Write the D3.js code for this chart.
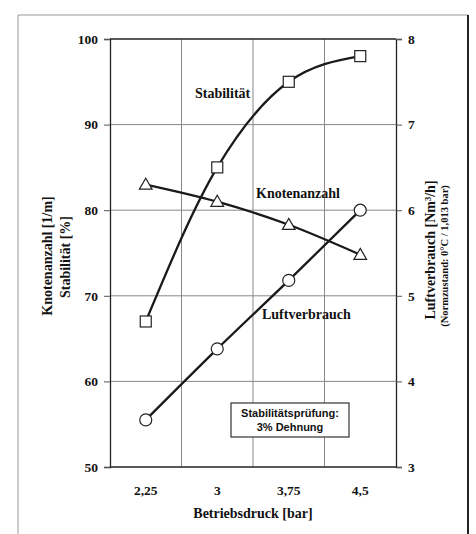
<!DOCTYPE html>
<html>
<head>
<meta charset="utf-8">
<script src="https://cdn.jsdelivr.net/npm/d3@7"></script>
<style>
body{margin:0;background:#fff;}
text{font-family:"Liberation Serif","Times New Roman",serif;font-weight:bold;fill:#111;}
</style>
</head>
<body>
<div id="plot"></div>
<script>
// data
var druck = ['2,25','3','3,75','4,5'];
var stabilitaet = [67, 85, 95, 98];          // left axis [%]
var knotenanzahl = [83, 81, 78.3, 74.8];     // left axis [1/m]
var luftverbrauch = [3.55, 4.38, 5.18, 6.0]; // right axis [Nm3/h]
var leftTicks = [50,60,70,80,90,100];
var rightTicks = [3,4,5,6,7,8];

var W = 476, H = 534;
var m = {l:110, r:396, t:39, b:467};

var svg = d3.select('#plot').append('svg')
	.attr('width',W).attr('height',H);

// outer frame of the scan
svg.append('line').attr('x1',18).attr('x2',468).attr('y1',15).attr('y2',15)
	.attr('stroke','#999').attr('stroke-width',1);
svg.append('line').attr('x1',18).attr('x2',18).attr('y1',15).attr('y2',534)
	.attr('stroke','#999').attr('stroke-width',1);
svg.append('line').attr('x1',468).attr('x2',468).attr('y1',15).attr('y2',534)
	.attr('stroke','#222').attr('stroke-width',2);

var xBand = d3.scaleBand().domain(druck).range([m.l,m.r]);
var x = function(d){ return xBand(d)+xBand.bandwidth()/2; };
var yL = d3.scaleLinear().domain([50,100]).range([m.b,m.t]);
var yR = d3.scaleLinear().domain([3,8]).range([m.b,m.t]);

// grid
var grid = svg.append('g').attr('stroke','#888').attr('stroke-width',1);
grid.selectAll('.gy').data(leftTicks.slice(1,-1)).enter().append('line')
	.attr('x1',m.l).attr('x2',m.r)
	.attr('y1',function(d){return yL(d)}).attr('y2',function(d){return yL(d)});
grid.selectAll('.gx').data(druck.slice(1)).enter().append('line')
	.attr('x1',function(d){return xBand(d)}).attr('x2',function(d){return xBand(d)})
	.attr('y1',m.t).attr('y2',m.b);

// axes
var axL = svg.append('g').attr('transform','translate('+m.l+',0)')
	.call(d3.axisLeft(yL).tickValues(leftTicks).tickFormat(d3.format('d')).tickSize(6).tickPadding(6));
var axR = svg.append('g').attr('transform','translate('+m.r+',0)')
	.call(d3.axisRight(yR).tickValues(rightTicks).tickFormat(d3.format('d')).tickSize(6).tickPadding(6));
var axB = svg.append('g').attr('transform','translate(0,'+m.b+')')
	.call(d3.axisBottom(xBand).tickSize(0).tickPadding(18));
svg.append('line').attr('x1',m.l).attr('x2',m.r).attr('y1',m.t).attr('y2',m.t)
	.attr('stroke','#222').attr('stroke-width',1.3);

[axL,axR,axB].forEach(function(a){
	a.select('.domain').attr('stroke','#222').attr('stroke-width',1.3);
	a.selectAll('.tick line').attr('stroke','#555');
	a.selectAll('text').style('font-family','Liberation Serif').style('font-weight','bold')
		.style('font-size','13.5px').attr('fill','#111');
});
axB.select('.domain').attr('d','M'+m.l+',0H'+m.r);

// axis titles
svg.append('text').attr('x',(m.l+m.r)/2).attr('y',518).attr('text-anchor','middle')
	.style('font-size','14px').text('Betriebsdruck [bar]');
svg.append('text').attr('transform','translate(47,256) rotate(-90)')
	.attr('text-anchor','middle').attr('dy','0.35em').style('font-size','14px')
	.text('Knotenanzahl [1/m]');
svg.append('text').attr('transform','translate(65,257) rotate(-90)')
	.attr('text-anchor','middle').attr('dy','0.35em').style('font-size','14px')
	.text('Stabilität [%]');
svg.append('text').attr('transform','translate(430,250) rotate(-90)')
	.attr('text-anchor','middle').attr('dy','0.35em').style('font-size','14px')
	.text('Luftverbrauch [Nm³/h]');
svg.append('text').attr('transform','translate(444,256) rotate(-90)')
	.attr('text-anchor','middle').attr('dy','0.35em').style('font-size','10.5px')
	.text('(Normzustand: 0°C / 1,013 bar)');

// series lines
function series(vals, y){
	return druck.map(function(d,i){ return {k:d, v:vals[i], y:y}; });
}
var sS = series(stabilitaet, yL), sK = series(knotenanzahl, yL), sL = series(luftverbrauch, yR);

var line = d3.line().curve(d3.curveMonotoneX)
	.x(function(d){return x(d.k)}).y(function(d){return d.y(d.v)});

[sS,sK,sL].forEach(function(s){
	svg.append('path').datum(s).attr('d',line)
		.attr('fill','none').attr('stroke','#1a1a1a').attr('stroke-width',2.3);
});

// markers
svg.selectAll('.sq').data(sS).enter().append('rect')
	.attr('x',function(d){return x(d.k)-5.5}).attr('y',function(d){return d.y(d.v)-5.5})
	.attr('width',11).attr('height',11)
	.attr('fill','#fff').attr('stroke','#222').attr('stroke-width',1.2);
svg.selectAll('.tri').data(sK).enter().append('path')
	.attr('d',d3.symbol().type(d3.symbolTriangle).size(70))
	.attr('transform',function(d){return 'translate('+x(d.k)+','+(d.y(d.v)+1)+')'})
	.attr('fill','#fff').attr('stroke','#222').attr('stroke-width',1.2);
svg.selectAll('.ci').data(sL).enter().append('circle')
	.attr('cx',function(d){return x(d.k)}).attr('cy',function(d){return d.y(d.v)})
	.attr('r',6)
	.attr('fill','#fff').attr('stroke','#222').attr('stroke-width',1.2);

// series labels
svg.append('text').attr('x',195).attr('y',98).style('font-size','14px').text('Stabilität');
svg.append('text').attr('x',256).attr('y',198).style('font-size','14px').text('Knotenanzahl');
svg.append('text').attr('x',262).attr('y',319).style('font-size','14px').text('Luftverbrauch');

// note box
svg.append('rect').attr('x',231).attr('y',403).attr('width',118).attr('height',34)
	.attr('fill','#fff').attr('stroke','#333').attr('stroke-width',1.2);
svg.append('text').attr('x',290).attr('y',417).attr('text-anchor','middle')
	.style('font-family','Liberation Sans').style('font-size','11px').text('Stabilitätsprüfung:');
svg.append('text').attr('x',290).attr('y',431).attr('text-anchor','middle')
	.style('font-family','Liberation Sans').style('font-size','11px').text('3% Dehnung');
</script>
</body>
</html>
